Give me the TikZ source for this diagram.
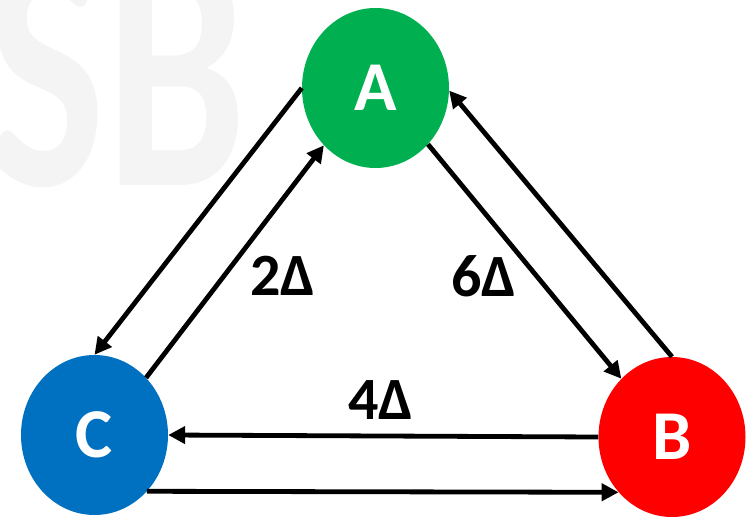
\documentclass[tikz,border=0pt]{standalone}
\usepackage{fontspec}
\setmainfont{Carlito}
\usetikzlibrary{shapes.geometric,arrows.meta}
\definecolor{agreen}{HTML}{00B050}
\definecolor{bred}{HTML}{FF0000}
\definecolor{cblue}{HTML}{0070C0}
\definecolor{wm}{HTML}{F4F4F4}
\tikzset{
  state/.style={ellipse, minimum width=147pt, minimum height=160pt, inner sep=0pt,
     text=white, font=\fontsize{70}{70}\selectfont\bfseries},
  conn/.style={line width=4.8pt, -{Triangle[length=17pt,width=17pt]}},
  lbl/.style={font=\fontsize{60}{60}\selectfont\bfseries, inner sep=0pt}
}
\begin{document}
\begin{tikzpicture}[x=1pt,y=-1pt]
\useasboundingbox (0,0) rectangle (756,517);
\node[text=wm, font=\fontsize{350}{350}\selectfont\bfseries, anchor=base east, inner sep=0pt, xscale=0.72] (wmk) at (247,185) {SB};
\node[state, fill=agreen] (A) at (375.5,88) {A};
\node[state, fill=cblue] (C) at (94.5,435) {C};
\node[state, fill=bred] (B) at (672,437) {B};
\draw[conn] (A.west) -- (C.north);
\draw[conn] (C.48) -- (A.228);
\draw[conn] (A.-47) -- (B.131);
\draw[conn] (B.north) -- (A.-2);
\draw[conn] (B.west) -- (C.east);
\draw[conn] (C.-47) -- (B.-134);
\node[lbl] (l2) at (283,276) {2Δ};
\node[lbl] (l6) at (484,276) {6Δ};
\node[lbl] (l4) at (381,400) {4Δ};
\end{tikzpicture}
\end{document}
